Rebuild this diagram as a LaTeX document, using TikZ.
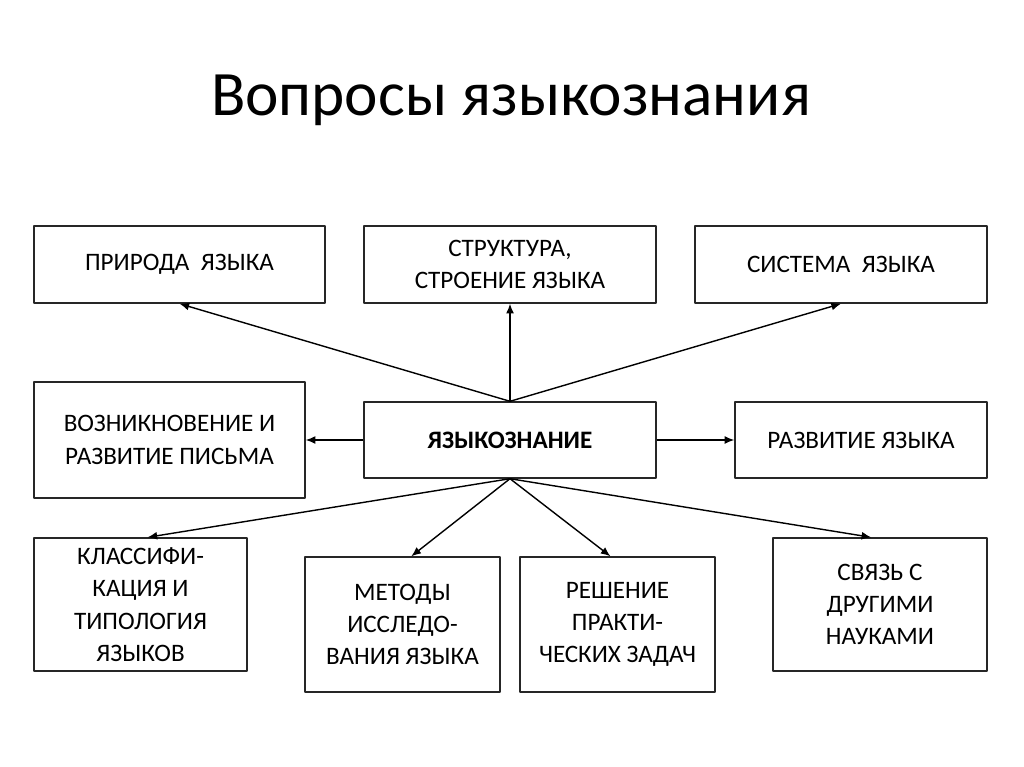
\documentclass[tikz,border=0pt]{standalone}
\usepackage{fontspec}
\setmainfont{Carlito}
\usetikzlibrary{arrows.meta}
\tikzset{
  box/.style={draw=black!85,line width=.8pt,align=center,inner sep=0pt,
    font=\fontsize{14.3}{18.4}\selectfont},
  arr/.style={line width=.8pt,-{Latex[length=5.5pt,width=4.5pt]}}
}
\begin{document}
\begin{tikzpicture}[x=0.02cm,y=-0.02cm,line join=round]
  \useasboundingbox (0,0) rectangle (1024,767);
  \node (title) at (511,100) {\fontsize{36}{40}\selectfont Вопросы языкознания};
  \node (nature) [box,minimum width=5.82cm,minimum height=1.54cm] at (179.5,264.5) {ПРИРОДА\ \ ЯЗЫКА};
  \node (struct) [box,minimum width=5.84cm,minimum height=1.54cm] at (510,264.5) {СТРУКТУРА,\\СТРОЕНИЕ ЯЗЫКА};
  \node (system) [box,minimum width=5.84cm,minimum height=1.54cm] at (841,264.5) {СИСТЕМА\ \ ЯЗЫКА};
  \node (writing) [box,minimum width=5.42cm,minimum height=2.32cm] at (169.5,440) {ВОЗНИКНОВЕНИЕ И\\РАЗВИТИЕ ПИСЬМА};
  \node (ling) [box,minimum width=5.84cm,minimum height=1.52cm] at (510,440) {\bfseries ЯЗЫКОЗНАНИЕ};
  \node (devel) [box,minimum width=5.04cm,minimum height=1.52cm] at (861,440) {РАЗВИТИЕ ЯЗЫКА};
  \node (classif) [box,minimum width=4.26cm,minimum height=2.66cm] at (140.5,604.5) {КЛАССИФИ-\\КАЦИЯ И\\ТИПОЛОГИЯ\\ЯЗЫКОВ};
  \node (methods) [box,minimum width=3.9cm,minimum height=2.7cm] at (402.5,624.5) {МЕТОДЫ\\ИССЛЕДО-\\ВАНИЯ ЯЗЫКА};
  \node (practice) [box,minimum width=3.9cm,minimum height=2.7cm] at (617.5,624.5) {РЕШЕНИЕ\\ПРАКТИ-\\ЧЕСКИХ ЗАДАЧ};
  \node (links) [box,minimum width=4.28cm,minimum height=2.66cm] at (880,604.5) {СВЯЗЬ С\\ДРУГИМИ\\НАУКАМИ};
  \draw [arr] (ling.north) -- (nature.south);
  \draw [arr] (ling.north) -- (struct.south);
  \draw [arr] (ling.north) -- (system.south);
  \draw [arr] (ling.west) -- (writing.east);
  \draw [arr] (ling.east) -- (devel.west);
  \draw [arr] (ling.south) -- ([xshift=4]classif.north);
  \draw [arr] (ling.south) -- ([xshift=5]methods.north);
  \draw [arr] (ling.south) -- ([xshift=-4]practice.north);
  \draw [arr] (ling.south) -- ([xshift=-5]links.north);
\end{tikzpicture}
\end{document}
